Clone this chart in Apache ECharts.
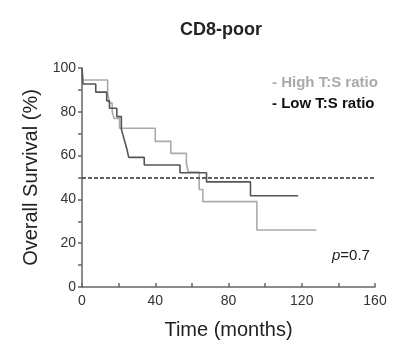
<!DOCTYPE html>
<html><head><meta charset="utf-8">
<script src="https://cdn.jsdelivr.net/npm/echarts@6/dist/echarts.min.js"></script>
<style>html,body{margin:0;padding:0;background:#fff}#c{width:401px;height:350px}</style>
</head><body><div id="c"></div>
<script>
// Data (time in months, overall survival %)
const highTime = [0, 0.5, 14, 15, 16.5, 17.5, 20.5, 40, 48.5, 57, 58, 64, 66, 95.5, 128];
const highSurv = [100, 94.5, 88.4, 84, 80, 77, 72.5, 66.5, 61, 56.5, 52.5, 44.5, 39, 26, 26];
const lowTime = [0, 0.5, 7.5, 13.5, 15, 19, 21.5, 22.5, 23.5, 24.5, 25.5, 34, 53.5, 68, 92, 118];
const lowSurv = [100, 92.7, 89, 85, 81.6, 77.8, 72, 69, 66, 63, 59.2, 55.7, 52.2, 48, 41.7, 41.7];
const seriesNames = ['High T:S ratio', 'Low T:S ratio'];
const xTicks = [0, 40, 80, 120, 160];
const yTicks = [0, 20, 40, 60, 80, 100];
const medianLine = 50;
const pValue = '0.7';

const FONT = 'Liberation Sans, Arial, sans-serif';
const pair = (t, s) => t.map((v, i) => [v, s[i]]);
const chart = echarts.init(document.getElementById('c'), null, {renderer: 'canvas'});
chart.setOption({
  animation: false,
  backgroundColor: '#fff',
  title: {
    text: 'CD8-poor', left: 175, top: 16,
    textStyle: {fontFamily: FONT, fontWeight: 'bold', fontSize: 18, color: '#222'}
  },
  legend: {
    orient: 'vertical', left: 262, top: 70, itemGap: 6,
    icon: 'none', itemWidth: 0, itemHeight: 0,
    formatter: n => '- ' + n,
    selectedMode: false,
    data: [
      {name: seriesNames[0], textStyle: {color: '#aaaaaa'}},
      {name: seriesNames[1], textStyle: {color: '#111111'}}
    ],
    textStyle: {fontFamily: FONT, fontWeight: 'bold', fontSize: 15}
  },
  grid: {left: 82, right: 26, top: 68, bottom: 63},
  xAxis: {
    type: 'value', min: 0, max: 160, interval: 20,
    name: 'Time (months)', nameLocation: 'middle', nameGap: 33,
    nameTextStyle: {fontFamily: FONT, fontSize: 20, color: '#222'},
    axisLine: {lineStyle: {color: '#666', width: 1.5}},
    axisTick: {inside: true, length: 4, lineStyle: {color: '#666', width: 1.5}},
    splitLine: {show: false},
    axisLabel: {
      fontFamily: FONT, fontSize: 14, color: '#333', margin: 7,
      formatter: v => xTicks.includes(v) ? String(v) : ''
    }
  },
  yAxis: {
    type: 'value', min: 0, max: 100, interval: 10,
    name: 'Overall Survival (%)', nameLocation: 'middle', nameGap: 41,
    nameTextStyle: {fontFamily: FONT, fontSize: 20, color: '#222'},
    axisLine: {show: true, lineStyle: {color: '#666', width: 1.5}},
    axisTick: {show: true, length: 4, lineStyle: {color: '#666', width: 1.5}},
    splitLine: {show: false},
    axisLabel: {
      fontFamily: FONT, fontSize: 14, color: '#333', margin: 6,
      formatter: v => yTicks.includes(v) ? String(v) : ''
    }
  },
  series: [
    {
      name: seriesNames[0], type: 'line', step: 'end', showSymbol: false,
      data: pair(highTime, highSurv), z: 3,
      lineStyle: {color: '#aaaaaa', width: 1.6}, itemStyle: {color: '#aaaaaa'},
      markLine: {
        silent: true, symbol: 'none', label: {show: false},
        lineStyle: {color: '#333', type: [4, 2], width: 1.5},
        data: [{yAxis: medianLine}]
      }
    },
    {
      name: seriesNames[1], type: 'line', step: 'end', showSymbol: false,
      data: pair(lowTime, lowSurv), z: 4,
      lineStyle: {color: '#555555', width: 1.6}, itemStyle: {color: '#555555'}
    }
  ],
  graphic: [{
    type: 'text', left: 332, top: 248,
    style: {
      text: '{i|p}=' + pValue, font: '15px ' + FONT, fill: '#222',
      rich: {i: {fontStyle: 'italic', fontFamily: FONT, fontSize: 15, fill: '#222'}}
    }
  }]
});
</script></body></html>
